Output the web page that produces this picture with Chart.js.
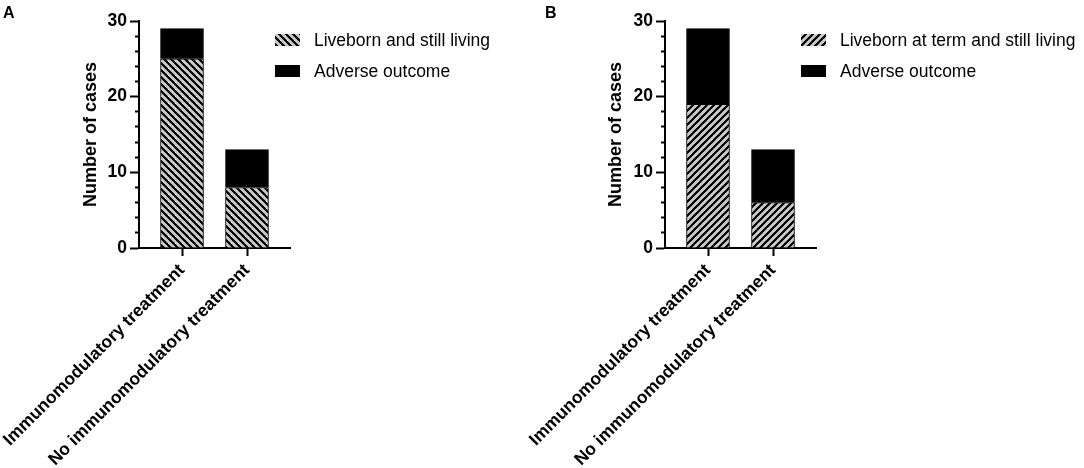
<!DOCTYPE html>
<html lang="en">
<head>
  <meta charset="UTF-8" />
  <title>Outcome by treatment</title>
  <script src="https://cdn.jsdelivr.net/npm/chart.js"></script>
  <style>
    body {
      margin: 0;
      background: #fff;
      font-family: "Liberation Sans", Arial, sans-serif;
    }
    .wrap {
      position: relative;
      width: 1084px;
      height: 468px;
    }
    .panel {
      position: absolute;
      top: 0;
      height: 468px;
    }
    .letter {
      position: absolute;
      top: 4px;
      font-weight: bold;
      font-size: 16px;
      color: #000;
    }
  </style>
</head>
<body>
  <div class="wrap">
    <div class="panel" style="left:0;width:525px"><canvas id="chartA"></canvas></div>
    <div class="panel" style="left:525px;width:559px"><canvas id="chartB"></canvas></div>
    <div class="letter" style="left:3px">A</div>
    <div class="letter" style="left:545px">B</div>
  </div>

  <script>
    const categories = ['Immunomodulatory treatment', 'No immunomodulatory treatment'];
    const livebornA = [25, 8];
    const adverseA = [4, 5];
    const livebornB = [19, 6];
    const adverseB = [10, 7];
    const yMax = 30;
    const yMajor = 10;

    const FONT = '"Liberation Sans", Arial, sans-serif';
    Chart.defaults.color = '#000';
    Chart.defaults.font.family = FONT;

    // striped fill: black / white / grey / white
    function makeHatch(dir) {
      const s = 7;
      const c = document.createElement('canvas');
      c.width = s;
      c.height = s;
      const g = c.getContext('2d');
      g.fillStyle = '#fff';
      g.fillRect(0, 0, s, s);
      function stripes(color, width, shift) {
        g.strokeStyle = color;
        g.lineWidth = width;
        for (let k = -2; k <= 2; k++) {
          const o = k * s + shift;
          g.beginPath();
          if (dir === 'down') {
            g.moveTo(-2, -2 + o);
            g.lineTo(s + 2, s + 2 + o);
          } else {
            g.moveTo(-2, s + 2 + o);
            g.lineTo(s + 2, -2 + o);
          }
          g.stroke();
        }
      }
      stripes('#c8c8c8', 1.7, s / 2);
      stripes('#000', 2.3, 0);
      return g.createPattern(c, 'repeat');
    }

    // legend drawn next to the plot from the datasets
    const sideLegend = {
      id: 'sideLegend',
      afterDraw(chart) {
        const ctx = chart.ctx;
        const x0 = chart.chartArea.left + 136;
        ctx.save();
        ctx.font = '17.5px ' + FONT;
        ctx.textBaseline = 'middle';
        chart.data.datasets.forEach((ds, i) => {
          const yc = 40 + i * 31;
          ctx.fillStyle = ds.backgroundColor;
          ctx.fillRect(x0, yc - 6, 25, 12);
          ctx.fillStyle = '#000';
          ctx.fillText(ds.label, x0 + 39, yc + 1);
        });
        ctx.restore();
      }
    };

    function makeChart(id, liveborn, adverse, liveLabel, hatchDir, axisWidth, padRight) {
      const gap = 43 / 65;
      return new Chart(document.getElementById(id), {
        type: 'bar',
        data: {
          datasets: [
            {
              label: liveLabel,
              data: liveborn.map((v, i) => ({ x: i, y: v })),
              backgroundColor: makeHatch(hatchDir),
              borderColor: '#000',
              borderWidth: 1,
              barThickness: 43
            },
            {
              label: 'Adverse outcome',
              data: adverse.map((v, i) => ({ x: i, y: v })),
              backgroundColor: '#000',
              borderColor: '#000',
              borderWidth: 1,
              barThickness: 43
            }
          ]
        },
        options: {
          responsive: true,
          maintainAspectRatio: false,
          animation: false,
          layout: { padding: { left: 0, top: 21, right: padRight, bottom: 0 } },
          plugins: {
            legend: { display: false },
            tooltip: { enabled: false }
          },
          scales: {
            x: {
              type: 'linear',
              stacked: true,
              offset: false,
              min: -gap,
              max: categories.length - 1 + gap,
              afterBuildTicks: s => { s.ticks = categories.map((c, i) => ({ value: i })); },
              afterFit: s => {
                s.height = 220;
                s.paddingLeft = 0;
                s.paddingRight = 0;
              },
              grid: {
                offset: false,
                drawOnChartArea: false,
                tickLength: 8,
                tickColor: '#000',
                tickWidth: 2
              },
              border: { color: '#000', width: 2 },
              ticks: {
                autoSkip: false,
                minRotation: 45,
                maxRotation: 45,
                padding: 4,
                font: { size: 17.5, weight: 'bold' },
                callback: v => categories[v]
              }
            },
            y: {
              stacked: true,
              min: 0,
              max: yMax,
              afterFit: s => {
                s.width = axisWidth;
                s.paddingTop = 0;
                s.paddingBottom = 0;
              },
              grid: {
                drawOnChartArea: false,
                tickLength: 9,
                tickColor: '#000',
                tickWidth: 2,
                tickBorderDash: c => (c.tick && c.tick.value % yMajor === 0) ? [] : [0, 5, 4, 40]
              },
              border: { color: '#000', width: 2 },
              ticks: {
                stepSize: 2,
                autoSkip: false,
                padding: 3,
                font: { size: 17.5, weight: 'bold' },
                callback: v => (v % yMajor === 0 ? v : '')
              },
              title: {
                display: true,
                text: 'Number of cases',
                font: { size: 18, weight: 'bold' },
                padding: { top: 80, bottom: 0 }
              }
            }
          }
        },
        plugins: [sideLegend]
      });
    }

    makeChart('chartA', livebornA, adverseA, 'Liveborn and still living', 'down', 139, 235);
    makeChart('chartB', livebornB, adverseB, 'Liveborn at term and still living', 'up', 140, 268);
  </script>
</body>
</html>
